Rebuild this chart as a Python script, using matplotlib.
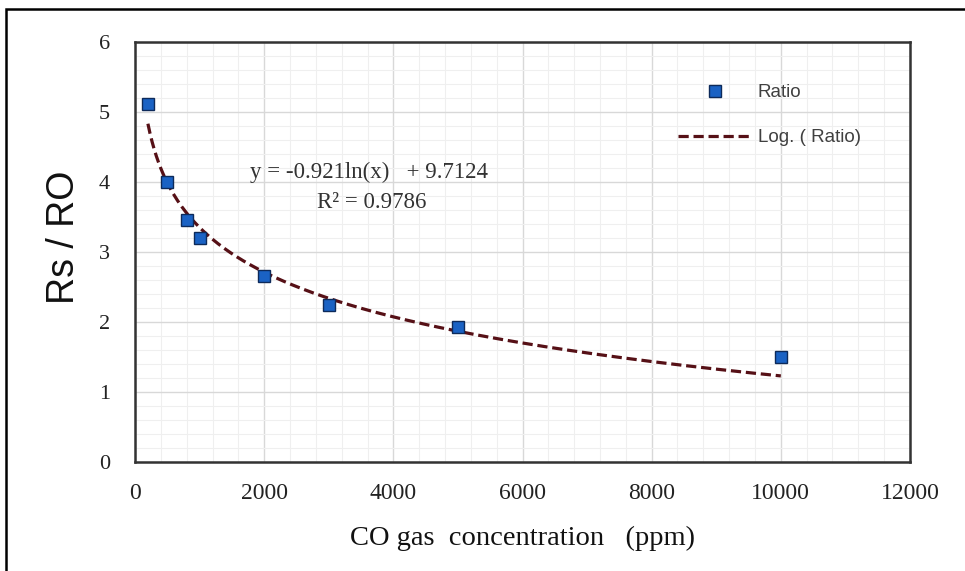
import numpy as np
import matplotlib
matplotlib.use("Agg")
import matplotlib.pyplot as plt
from matplotlib.patches import Rectangle
from matplotlib.ticker import MultipleLocator

# data
conc_ppm = [200, 500, 800, 1000, 2000, 3000, 5000, 10000]
ratio = [5.12, 4.0, 3.46, 3.2, 2.66, 2.24, 1.93, 1.5]

# log trendline as printed on the chart
slope = -0.921
intercept = 9.7124
r_squared = 0.9786

fig = plt.figure(figsize=(9.65, 5.71), dpi=100)
ax = fig.add_axes([135 / 965, 109 / 571, 775 / 965, 420 / 571])

# trendline over the range of the data
xt = np.linspace(min(conc_ppm), max(conc_ppm), 300)
yt = slope * np.log(xt) + intercept
ax.plot(xt, yt, color='#561016', lw=2.3, ls=(0, (3.2, 1.5)), label='Log. ( Ratio)', zorder=3)

ax.plot(conc_ppm, ratio, ls='none', marker='s', ms=9.2, mfc='#1a62c4',
        mec='#0d2a5a', mew=1.0, label='Ratio', zorder=4)

ax.set_xlim(0, 12000)
ax.set_ylim(0, 6)
ax.xaxis.set_major_locator(MultipleLocator(2000))
ax.xaxis.set_minor_locator(MultipleLocator(400))
ax.yaxis.set_major_locator(MultipleLocator(1))
ax.yaxis.set_minor_locator(MultipleLocator(0.2))
ax.grid(which='major', color='#d8d8d8', lw=1.0)
ax.grid(which='minor', color='#efefef', lw=0.8)
ax.set_axisbelow(True)

ax.tick_params(which='both', length=0)
ax.tick_params(axis='x', pad=15, labelsize=17, labelcolor='#222222')
ax.tick_params(axis='y', pad=18, labelsize=16, labelcolor='#222222')
for lab in ax.get_xticklabels() + ax.get_yticklabels():
    lab.set_fontfamily('Liberation Serif')

for sp in ax.spines.values():
    sp.set_color('#333333')
    sp.set_linewidth(1.8)

ax.set_ylabel('Rs / RO', fontsize=27, family='Liberation Sans', color='#111111')
ax.yaxis.set_label_coords(-0.068, 0.536)
ax.set_xlabel('CO gas  concentration   (ppm)', fontsize=20.5, family='Liberation Serif',
              color='#111111', labelpad=16)

ax.text(1783, 4.14, 'y = -0.921ln(x)   + 9.7124', fontsize=16.5, family='Liberation Serif',
        color='#333333', va='center', ha='left')
ax.text(2822, 3.70, 'R² = 0.9786', fontsize=16.5, family='Liberation Serif',
        color='#333333', va='center', ha='left')

leg = ax.legend(handles=ax.get_lines()[::-1], loc='upper left',
                bbox_to_anchor=(678 / 965, 1 - 84 / 571), bbox_transform=fig.transFigure,
                frameon=False, handlelength=3.9, handletextpad=0.35, labelspacing=1.5,
                borderpad=0, borderaxespad=0,
                prop={'family': 'Liberation Sans', 'size': 13.5})
for t in leg.get_texts():
    t.set_color('#404040')

# outer frame of the figure box
fig.patches.append(Rectangle((6 / 965, -0.1), 1.2, 1 - 9 / 571 + 0.1, transform=fig.transFigure,
                             fill=False, ec='black', lw=1.8))

fig.savefig('out.png', dpi=100)
